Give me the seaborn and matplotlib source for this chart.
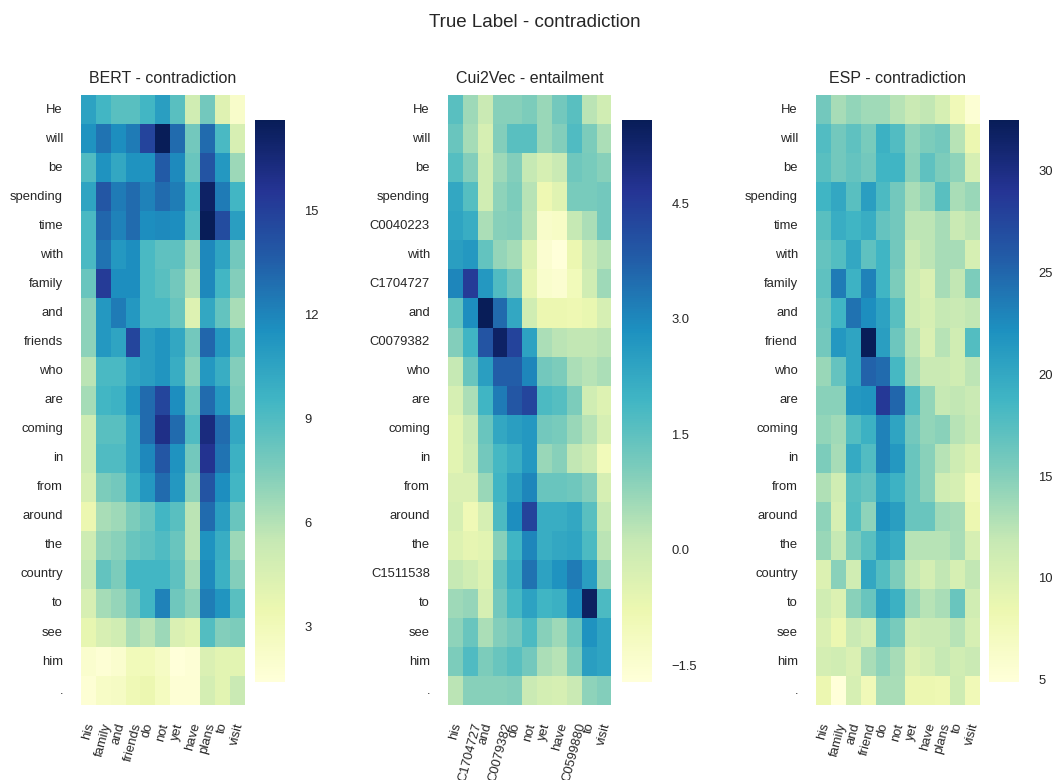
import numpy as np
import pandas as pd
import matplotlib
matplotlib.use("Agg")
import matplotlib.pyplot as plt
import seaborn as sns

# token labels
bert_rows = ["He", "will", "be", "spending", "time", "with", "family", "and", "friends", "who",
             "are", "coming", "in", "from", "around", "the", "country", "to", "see", "him", "."]
bert_cols = ["his", "family", "and", "friends", "do", "not", "yet", "have", "plans", "to", "visit"]

cui_rows = ["He", "will", "be", "spending", "C0040223", "with", "C1704727", "and", "C0079382", "who",
            "are", "coming", "in", "from", "around", "the", "C1511538", "to", "see", "him", "."]
cui_cols = ["his", "C1704727", "and", "C0079382", "do", "not", "yet", "have", "C0599880", "to", "visit"]

esp_rows = ["He", "will", "be", "spending", "time", "with", "family", "and", "friend", "who",
            "are", "coming", "in", "from", "around", "the", "country", "to", "see", "him", "."]
esp_cols = ["his", "family", "and", "friend", "do", "not", "yet", "have", "plans", "to", "visit"]

# attention values
bert_vals = [
    [10.6, 9.5, 8.7, 8.7, 9.5, 10.8, 8.7, 5.0, 7.9, 4.2, 2.2],
    [11.4, 12.7, 11.6, 12.4, 14.8, 17.6, 13.0, 7.9, 13.0, 9.2, 4.6],
    [9.0, 11.4, 10.3, 11.4, 11.4, 13.7, 11.8, 8.2, 14.0, 11.1, 6.7],
    [10.5, 13.9, 12.4, 13.0, 12.1, 13.0, 12.3, 9.5, 17.1, 12.4, 9.5],
    [9.2, 13.2, 12.1, 13.0, 11.6, 11.8, 11.6, 9.0, 17.6, 14.4, 10.8],
    [9.2, 12.7, 11.1, 11.6, 9.2, 8.5, 8.5, 6.7, 11.9, 10.5, 7.9],
    [8.2, 15.2, 11.6, 11.6, 9.2, 8.7, 7.9, 6.0, 11.9, 9.5, 7.4],
    [7.1, 11.1, 12.4, 11.1, 9.2, 9.2, 8.2, 4.3, 10.3, 8.4, 6.3],
    [7.1, 11.1, 10.5, 14.7, 10.8, 11.3, 10.3, 7.9, 13.2, 11.1, 8.4],
    [5.8, 9.2, 9.2, 10.5, 10.8, 11.3, 10.0, 7.2, 11.1, 10.0, 7.4],
    [6.4, 9.5, 9.7, 11.3, 13.0, 14.7, 11.6, 8.2, 13.0, 11.1, 7.6],
    [5.1, 8.7, 8.7, 10.3, 13.0, 16.0, 13.0, 9.0, 16.3, 13.0, 10.3],
    [5.1, 9.0, 9.0, 10.3, 11.9, 13.9, 11.4, 7.9, 15.7, 12.7, 9.8],
    [4.6, 7.6, 7.9, 9.8, 11.1, 13.0, 11.1, 7.1, 14.0, 11.6, 9.5],
    [3.5, 6.3, 6.6, 7.6, 8.2, 9.5, 8.7, 5.8, 13.0, 10.8, 8.2],
    [5.1, 6.9, 7.2, 8.2, 8.5, 9.0, 8.2, 5.8, 11.4, 10.0, 6.7],
    [5.45, 8.4, 7.6, 9.5, 9.5, 9.5, 8.5, 6.3, 11.8, 9.8, 7.4],
    [4.6, 6.4, 6.9, 8.0, 9.5, 12.1, 8.0, 7.1, 12.3, 11.3, 8.7],
    [3.8, 4.6, 5.0, 6.3, 5.8, 6.7, 4.5, 4.0, 8.9, 7.4, 7.6],
    [2.0, 1.7, 2.0, 3.0, 3.0, 2.5, 1.4, 1.6, 4.5, 4.0, 4.0],
    [1.7, 2.4, 2.5, 3.2, 3.5, 2.7, 1.7, 1.7, 4.8, 4.0, 5.3],
]

cui_vals = [
    [1.57, 0.62, 0.03, 0.91, 0.91, 1.05, 0.69, 1.20, 1.57, 0.25, -0.10],
    [1.35, 0.54, -0.26, 0.98, 1.57, 1.57, 0.69, 0.98, 1.71, 1.05, 0.47],
    [1.64, 0.98, -0.10, 0.62, 0.98, 0.11, -0.26, 0.03, 1.27, 1.13, 0.91],
    [2.30, 1.64, -0.10, 0.84, 1.05, 0.33, -0.84, -0.48, 1.13, 1.13, 1.20],
    [2.37, 2.15, 0.47, 0.91, 0.98, 0.25, -1.35, -1.28, 0.11, 0.47, 1.20],
    [2.51, 2.66, 1.42, 0.76, 0.54, -0.41, -1.50, -1.72, -0.77, 0.03, 0.33],
    [3.03, 4.50, 2.66, 1.71, 1.20, -0.63, -1.43, -1.50, -0.99, -0.10, 0.62],
    [1.42, 2.88, 5.58, 3.54, 2.30, -0.10, -0.77, -0.77, -0.84, -0.70, -0.26],
    [0.98, 1.93, 3.97, 5.36, 4.34, 2.44, 0.47, 0.25, 0.18, 0.18, 0.25],
    [0.11, 1.35, 2.51, 3.76, 3.76, 3.03, 1.20, 1.05, 0.47, 0.33, 0.47],
    [-0.26, 0.47, 1.93, 3.24, 3.90, 4.27, 1.78, 1.64, 1.05, -0.10, -0.41],
    [-0.55, 0.03, 1.35, 2.30, 2.51, 2.66, 1.20, 1.13, 0.69, 0.33, -0.26],
    [-0.55, -0.04, 1.20, 1.86, 2.15, 2.66, 0.69, 0.91, 0.18, -0.04, -0.99],
    [-0.33, -0.33, 0.69, 1.93, 2.51, 3.03, 1.35, 1.35, 1.27, 0.98, -0.26],
    [-0.26, -0.92, -0.26, 1.78, 2.88, 4.34, 2.15, 2.15, 2.30, 1.57, 0.11],
    [-0.41, -0.63, -0.55, 0.91, 1.93, 3.03, 2.15, 2.30, 2.37, 1.78, 0.25],
    [0.11, -0.10, -0.41, 1.42, 2.15, 3.39, 2.44, 2.80, 3.24, 2.51, 0.69],
    [0.62, 0.76, -0.26, 1.20, 1.86, 2.44, 1.93, 2.08, 2.88, 5.43, 1.78],
    [0.84, 1.35, 0.47, 0.98, 1.20, 1.78, 0.91, 0.62, 1.35, 2.80, 2.37],
    [1.05, 1.71, 1.05, 1.35, 1.57, 1.20, 0.47, 0.33, 1.05, 2.51, 2.37],
    [0.25, 0.91, 0.91, 0.91, 0.98, 0.03, -0.18, -0.26, 0.03, 0.84, 0.98],
]

esp_vals = [
    [15.9, 13.4, 14.3, 13.7, 13.7, 12.6, 11.5, 12.1, 10.4, 7.7, 5.5],
    [17.8, 15.9, 17.0, 15.6, 19.2, 17.8, 14.5, 15.4, 15.9, 12.6, 8.5],
    [17.3, 15.9, 16.7, 15.9, 18.7, 18.7, 14.8, 17.0, 15.4, 14.5, 10.4],
    [18.7, 20.0, 17.3, 20.9, 18.1, 15.9, 13.2, 14.3, 17.3, 13.2, 14.0],
    [17.3, 19.5, 18.7, 19.5, 16.7, 15.9, 12.3, 12.3, 13.4, 11.5, 12.3],
    [16.7, 17.6, 20.0, 17.0, 18.7, 15.9, 11.5, 12.3, 13.4, 13.4, 10.4],
    [17.0, 23.6, 19.0, 23.1, 18.7, 15.4, 11.2, 10.1, 13.4, 12.1, 15.4],
    [16.2, 18.7, 24.2, 22.3, 20.6, 17.3, 11.2, 10.4, 11.8, 11.5, 12.1],
    [15.9, 21.4, 20.3, 32.45, 20.9, 16.2, 12.6, 10.1, 12.6, 11.0, 17.6],
    [14.0, 16.7, 20.3, 25.3, 24.7, 18.4, 13.2, 11.5, 11.5, 11.0, 12.3],
    [14.8, 14.8, 21.4, 21.7, 28.6, 25.0, 17.8, 14.3, 11.8, 12.1, 11.5],
    [14.3, 13.7, 17.6, 19.2, 23.1, 20.3, 15.9, 14.3, 14.8, 12.6, 11.8],
    [15.4, 13.4, 19.8, 17.8, 23.1, 21.4, 16.5, 14.8, 12.6, 11.2, 9.9],
    [12.9, 11.0, 17.3, 16.7, 20.3, 19.0, 16.5, 14.8, 11.0, 10.4, 7.7],
    [14.5, 10.4, 17.6, 14.5, 22.0, 20.9, 16.5, 16.5, 13.7, 13.4, 8.5],
    [14.0, 11.8, 15.6, 17.3, 20.3, 19.5, 12.6, 12.6, 12.6, 13.2, 10.4],
    [9.9, 14.8, 11.0, 20.0, 17.6, 15.4, 11.8, 10.7, 12.1, 10.4, 12.1],
    [11.0, 9.9, 14.8, 16.5, 20.6, 19.2, 14.0, 12.6, 13.2, 16.5, 11.0],
    [10.1, 8.5, 11.5, 10.7, 17.0, 15.6, 11.2, 11.5, 11.5, 12.6, 10.4],
    [10.7, 11.0, 10.1, 13.2, 14.5, 13.4, 9.9, 10.7, 11.8, 11.0, 11.5],
    [8.5, 4.9, 10.4, 7.7, 13.2, 13.2, 8.5, 8.5, 8.2, 11.2, 7.9],
]

bert_ticks = [3, 6, 9, 12, 15]
cui_ticks = [-1.5, 0.0, 1.5, 3.0, 4.5]
esp_ticks = [5, 10, 15, 20, 25, 30]

sns.set_style("white")
plt.rcParams['font.family'] = ['Liberation Sans', 'DejaVu Sans']
plt.rcParams['text.color'] = '.15'
plt.rcParams['xtick.color'] = '.15'
plt.rcParams['ytick.color'] = '.15'

fig = plt.figure(figsize=(10.55, 7.8), dpi=100)

panels = [
    ("BERT - contradiction", bert_vals, bert_rows, bert_cols, bert_ticks, 0.0768, 0.2417),
    ("Cui2Vec - entailment", cui_vals, cui_rows, cui_cols, cui_ticks, 0.4246, 0.5896),
    ("ESP - contradiction", esp_vals, esp_rows, esp_cols, esp_ticks, 0.7735, 0.9374),
]

for title, vals, rows, cols, ticks, ax_left, cb_left in panels:
    df = pd.DataFrame(vals, index=rows, columns=cols)
    ax = fig.add_axes([ax_left, 0.096, 0.155, 0.782])
    cax = fig.add_axes([cb_left, 0.1256, 0.0284, 0.7205])
    sns.heatmap(df, ax=ax, cbar_ax=cax, cmap="YlGnBu",
                xticklabels=True, yticklabels=True,
                cbar_kws={"ticks": ticks})
    ax.set_title(title, fontsize=11.5, pad=9)
    ax.tick_params(axis='y', length=0, pad=13, labelsize=9.4, rotation=0)
    ax.tick_params(axis='x', length=0, pad=12, labelsize=9.4)
    plt.setp(ax.get_xticklabels(), rotation=75, ha='center')
    cax.tick_params(length=0, pad=14, labelsize=9.4)

fig.suptitle("True Label - contradiction", fontsize=13.5, x=0.507, y=0.982)

plt.savefig("out.png", dpi=100)
